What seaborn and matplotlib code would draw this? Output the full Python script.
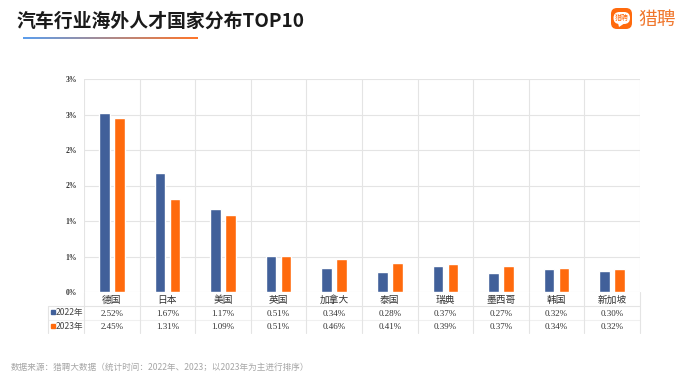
import numpy as np
import pandas as pd
import matplotlib
matplotlib.use("Agg")
import matplotlib.pyplot as plt
from matplotlib.patches import FancyBboxPatch, Polygon
import seaborn as sns

# --- Data ---
countries = ["德国", "日本", "美国", "英国", "加拿大", "泰国", "瑞典", "墨西哥", "韩国", "新加坡"]
values_2022 = [2.52, 1.67, 1.17, 0.51, 0.34, 0.28, 0.37, 0.27, 0.32, 0.30]
values_2023 = [2.45, 1.31, 1.09, 0.51, 0.46, 0.41, 0.39, 0.37, 0.34, 0.32]
y_ticks = [0, 0.5, 1, 1.5, 2, 2.5, 3]
y_tick_labels = ["0%", "1%", "1%", "2%", "2%", "3%", "3%"]
years = ["2022年", "2023年"]
title = "汽车行业海外人才国家分布TOP10"
source = "数据来源：猎聘大数据（统计时间：2022年、2023；以2023年为主进行排序）"

BLUE = "#41609a"
ORANGE = "#ff6a0d"
GRID = "#e4e4e4"

sns.set_theme(style="white")
plt.rcParams["font.family"] = ["Noto Sans CJK SC", "DejaVu Sans"]
SERIF = ["Liberation Serif", "Noto Sans CJK SC"]

df = pd.DataFrame({
    "country": countries * 2,
    "year": [years[0]] * 10 + [years[1]] * 10,
    "value": values_2022 + values_2023,
})

W, H = 679, 381
fig = plt.figure(figsize=(W / 100, H / 100), dpi=100, facecolor="white")

# --- Bars ---
ax = fig.add_axes([84 / W, 1 - 292 / H, (640 - 84) / W, (292 - 79) / H])
sns.barplot(data=df, x="country", y="value", hue="year", order=countries,
            palette=[BLUE, ORANGE], saturation=1, width=0.54, gap=0.3, legend=False, ax=ax, zorder=3)
ax.set_xlim(-0.5, 9.5)
ax.set_ylim(0, 3)
ax.set_yticks(y_ticks)
ax.set_yticklabels(y_tick_labels, fontsize=5.5, family=SERIF, color="#333333", fontweight="bold")
ax.set_xticks([])
ax.set_xlabel("")
ax.set_ylabel("")
ax.tick_params(axis="y", length=0, pad=5)
ax.grid(axis="y", color=GRID, lw=0.8, zorder=0)
for i in range(11):
    ax.axvline(i - 0.5, color=GRID, lw=0.8, zorder=0)
for s in ax.spines.values():
    s.set_visible(False)

# --- Overlay in pixel coordinates: header, table, footer ---
ov = fig.add_axes([0, 0, 1, 1], facecolor="none")
ov.set_xlim(0, W)
ov.set_ylim(H, 0)
ov.axis("off")

ov.text(17, 21, title, fontsize=13.6, fontweight="bold", color="#1a1a1a", va="center", ha="left")
grad = np.linspace(0, 1, 256)[None, :, None]
c1, c2 = np.array([0.36, 0.62, 0.93]), np.array([1.0, 0.46, 0.16])
ov.imshow(c1 + (c2 - c1) * grad, extent=(23, 198, 39.3, 37.9), aspect="auto", zorder=2)
ov.set_xlim(0, W)
ov.set_ylim(H, 0)

# logo
ov.add_patch(FancyBboxPatch((611, 8), 21, 21, boxstyle="round,pad=0,rounding_size=6",
                            fc="#ff6a0d", ec="none"))
ov.add_patch(Polygon([[618, 23], [625, 23], [619, 27]], fc="white", ec="none", zorder=3))
ov.add_patch(FancyBboxPatch((613.5, 12), 16.5, 12, boxstyle="round,pad=0,rounding_size=6",
                            fc="white", ec="none", zorder=3))
ov.text(621.7, 17.8, "猎聘", fontsize=5, color="#ff6a0d", ha="center", va="center", zorder=4)
ov.text(638.5, 19, "猎聘", fontsize=13.5, color="#f0772d", ha="left", va="center")

# table
row_y = [292, 306, 320, 333]
col_x = [84 + (640 - 84) * i / 10 for i in range(11)]
ov.plot([48, 640], [row_y[1]] * 2, color=GRID, lw=0.8)
ov.plot([48, 640], [row_y[2]] * 2, color="#f0f0f0", lw=0.8)
ov.plot([48, 48], [row_y[1], row_y[3]], color=GRID, lw=0.8)
for x in col_x:
    ov.plot([x, x], [row_y[0], row_y[3]], color=GRID, lw=0.8)

for i, name in enumerate(countries):
    cx = (col_x[i] + col_x[i + 1]) / 2
    ov.text(cx, 299.5, name, fontsize=7, color="#333333", ha="center", va="center")
    ov.text(cx, 313.5, f"{values_2022[i]:.2f}%", fontsize=6.5, family=SERIF, color="#333333",
            ha="center", va="center")
    ov.text(cx, 327, f"{values_2023[i]:.2f}%", fontsize=6.5, family=SERIF, color="#333333",
            ha="center", va="center")

for y, year, col in zip([313, 326.5], years, [BLUE, ORANGE]):
    ov.plot([53], [y - 1], marker="s", ms=2.6, color=col, ls="none")
    ov.text(55.5, y, year, fontsize=6.2, color="#444444", ha="left", va="center")

ov.text(11, 367, source, fontsize=6.2, color="#a6a6a6", ha="left", va="center")

fig.savefig("out.png", dpi=100)
